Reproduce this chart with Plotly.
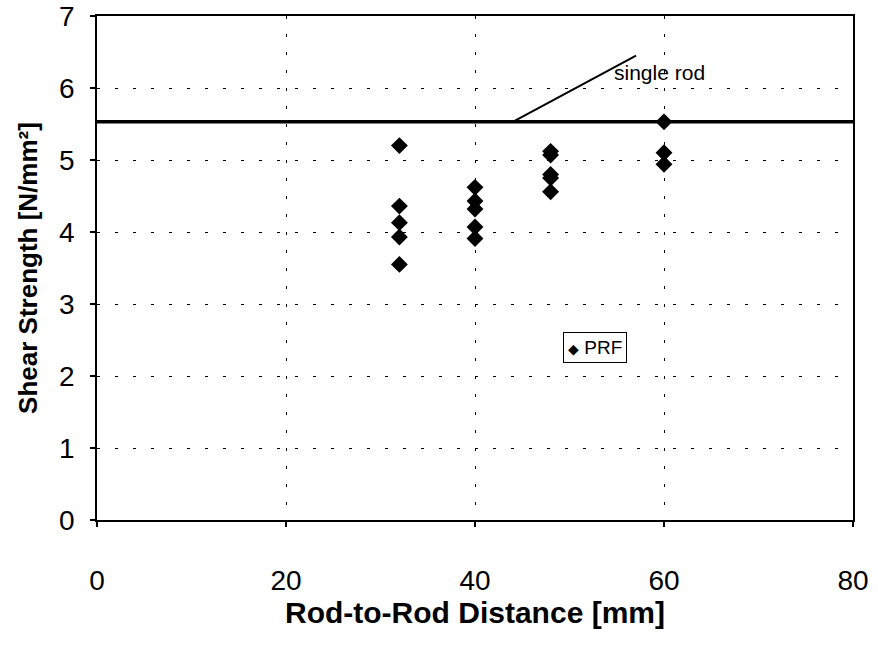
import plotly.graph_objects as go

# Data
distance = [32, 32, 32, 32, 32,
            40, 40, 40, 40, 40,
            48, 48, 48, 48, 48,
            60, 60, 60]
strength = [5.20, 4.36, 4.13, 3.93, 3.55,
            4.62, 4.43, 4.32, 4.07, 3.91,
            5.12, 5.07, 4.80, 4.75, 4.56,
            5.53, 5.10, 4.94]

single_rod_x = [0, 80]
single_rod_y = [5.53, 5.53]

x_ticks = [0, 20, 40, 60, 80]
y_ticks = [0, 1, 2, 3, 4, 5, 6, 7]

font_family = "Liberation Sans, Arial, sans-serif"

fig = go.Figure()
fig.add_trace(go.Scatter(
    x=single_rod_x, y=single_rod_y, mode="lines",
    line=dict(color="black", width=3.5), showlegend=False, hoverinfo="skip"))
fig.add_trace(go.Scatter(
    x=distance, y=strength, mode="markers", name="PRF", showlegend=False,
    marker=dict(symbol="diamond", size=13, color="black")))

# pointer line for "single rod"
fig.add_annotation(x=44.0, y=5.53, ax=57.2, ay=6.46, xref="x", yref="y",
                   axref="x", ayref="y", showarrow=True, arrowhead=0,
                   arrowwidth=2, arrowcolor="black", text="")
fig.add_annotation(x=54.5, y=6.22, xref="x", yref="y", text="single rod",
                   showarrow=False, xanchor="left", yanchor="middle",
                   font=dict(size=21, color="black", family=font_family))

# legend box
fig.add_annotation(x=52.7, y=2.4, xref="x", yref="y",
                   text="<span style='font-size:14px'>◆</span> PRF",
                   showarrow=False, xanchor="center", yanchor="middle",
                   bgcolor="white", bordercolor="black", borderwidth=1,
                   borderpad=4,
                   font=dict(size=19, color="black", family=font_family))

axis_common = dict(
    showline=True, linecolor="black", linewidth=1.8, mirror=True,
    ticks="outside", ticklen=5, tickcolor="black", tickwidth=1.5,
    showgrid=True, gridcolor="black", griddash="3px,15px", gridwidth=1,
    zeroline=False, automargin=False,
    tickfont=dict(size=28, color="black", family=font_family),
)

fig.update_xaxes(range=[0, 80], tickvals=x_ticks, ticklabelstandoff=29,
                 title=dict(text="<b>Rod-to-Rod Distance [mm]</b>", standoff=4,
                            font=dict(size=30, color="black", family=font_family)),
                 **axis_common)
fig.update_yaxes(range=[0, 7], tickvals=y_ticks, ticklabelstandoff=10,
                 title=dict(text="<b>Shear Strength [N/mm²]</b>", standoff=14,
                            font=dict(size=26, color="black", family=font_family)),
                 **axis_common)

fig.update_layout(
    width=878, height=645,
    margin=dict(l=97, r=25, t=16, b=125),
    plot_bgcolor="white", paper_bgcolor="white",
    font=dict(family=font_family, color="black"),
    showlegend=False,
)

fig.write_html("out.html")
